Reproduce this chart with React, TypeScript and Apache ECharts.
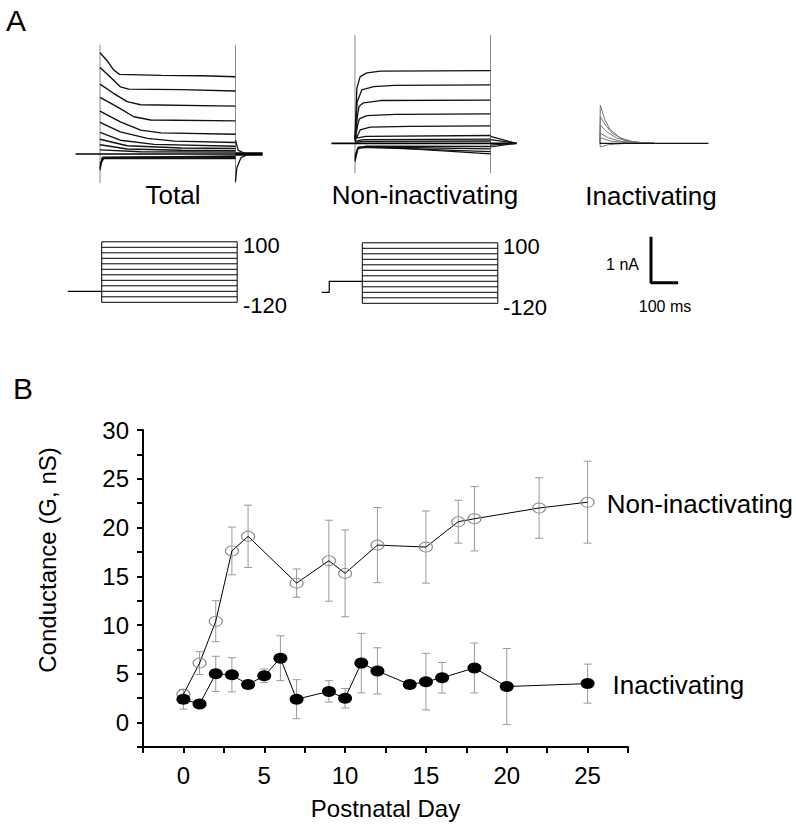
import React, { useEffect, useRef } from "react";
import * as echarts from "echarts";

const FONT = "'Liberation Sans', Arial, Helvetica, sans-serif";

// ---------------- Panel B data ----------------
const nonInactDays = [0, 1, 2, 3, 4, 7, 9, 10, 12, 15, 17, 18, 22, 25];
const nonInactMean = [2.9, 6.1, 10.4, 17.6, 19.1, 14.3, 16.6, 15.3, 18.2, 18.0, 20.6, 20.9, 22.0, 22.6];
const nonInactSem = [0.5, 1.17, 2.1, 2.45, 3.2, 1.45, 4.15, 4.45, 3.85, 3.7, 2.2, 3.3, 3.1, 4.2];

const inactDays = [0, 1, 2, 3, 4, 5, 6, 7, 9, 10, 11, 12, 14, 15, 16, 18, 20, 25];
const inactMean = [2.4, 1.9, 5.0, 4.9, 3.9, 4.8, 6.6, 2.4, 3.2, 2.5, 6.1, 5.3, 3.9, 4.2, 4.6, 5.6, 3.7, 4.0];
const inactSem = [1.0, 0.3, 1.8, 1.75, 0.3, 0.7, 2.3, 2.0, 1.1, 1.0, 3.05, 2.37, 0.3, 2.9, 1.57, 2.56, 3.9, 2.0];

// ---------------- Panel A data (time in ms, current in nA) ----------------
const totalTraces: number[][][] = [
  [[0, 2.2], [25, 2.04], [50, 1.83], [72, 1.73], [225, 1.71], [375, 1.7], [500, 1.68]],
  [[0, 1.88], [37, 1.68], [75, 1.46], [106, 1.41], [300, 1.4], [500, 1.37]],
  [[0, 1.52], [50, 1.32], [100, 1.14], [150, 1.07], [500, 1.04]],
  [[0, 1.23], [62, 1.03], [125, 0.81], [187, 0.74], [500, 0.72]],
  [[0, 0.93], [75, 0.7], [150, 0.52], [225, 0.46], [500, 0.43]],
  [[0, 0.69], [75, 0.48], [175, 0.34], [275, 0.28], [500, 0.25]],
  [[0, 0.47], [75, 0.3], [200, 0.21], [500, 0.17]],
  [[0, 0.32], [100, 0.18], [300, 0.13], [500, 0.12]],
  [[0, 0.2], [100, 0.11], [300, 0.08], [500, 0.07]],
  [[0, 0.09], [150, 0.05], [500, 0.04]],
  [[0, -0.35], [8, -0.08], [500, -0.04]],
  [[0, -0.3], [10, -0.07], [500, -0.06]],
  [[0, -0.25], [12, -0.09], [500, -0.08]],
  [[0, -0.2], [15, -0.1], [500, -0.1]],
];
const totalTails: number[][][] = [
  [[500, -0.6], [505, -0.3], [520, -0.08], [550, 0]],
  [[500, 0.3], [510, 0.08], [540, 0]],
];
const totalBaseline = [[-90, 0], [600, 0]];
const totalTailBaseline = [[500, 0], [600, 0]];
const totalCapOn = [[0, -0.63], [0, 2.37]];
const totalCapOff = [[500, -0.63], [500, 2.37]];

const nonInactTraces: number[][][] = [
  [[0, 0.1], [7, 1.2], [19, 1.45], [44, 1.53], [94, 1.57], [500, 1.58]],
  [[0, 0.1], [8, 0.9], [25, 1.16], [69, 1.23], [144, 1.26], [500, 1.27]],
  [[0, 0.08], [9, 0.6], [15, 0.8], [31, 0.88], [94, 0.93], [500, 0.94]],
  [[0, 0.06], [10, 0.4], [16, 0.53], [44, 0.6], [150, 0.63], [500, 0.64]],
  [[0, 0.05], [19, 0.29], [56, 0.35], [200, 0.37], [500, 0.38]],
  [[0, 0.2], [10, 0.12], [40, 0.15], [500, 0.17]],
  [[0, 0.04], [30, 0.08], [500, 0.09]],
  [[0, 0.02], [30, 0.04], [500, 0.05]],
  [[0, -0.4], [10, -0.12], [40, -0.06], [500, -0.07]],
  [[0, -0.35], [10, -0.1], [60, -0.08], [500, -0.12]],
  [[0, -0.3], [12, -0.09], [100, -0.1], [500, -0.18]],
  [[0, -0.25], [15, -0.08], [150, -0.1], [500, -0.23]],
];
const nonInactTails: number[][][] = [
  [[500, 0.15], [596, 0]],
  [[500, 0.08], [596, 0]],
  [[500, -0.08], [596, 0]],
  [[500, -0.04], [596, 0]],
];
const nonInactBaseline = [[-87, 0], [596, 0]];
const nonInactCapOn = [[0, -0.65], [0, 2.35]];
const nonInactCapOff = [[500, -0.65], [500, 2.35]];

const inactTraces: number[][][] = [
  [[0, 0], [1, 0.83], [18, 0.51], [37, 0.3], [74, 0.12], [123, 0.03], [200, 0]],
  [[0, 0], [1, 0.58], [20, 0.4], [45, 0.22], [90, 0.07], [150, 0.01], [200, 0]],
  [[0, 0], [1, 0.4], [25, 0.25], [60, 0.12], [110, 0.03], [200, 0]],
  [[0, 0], [1, 0.22], [30, 0.12], [80, 0.04], [200, 0]],
  [[0, 0], [1, 0.12], [40, 0.05], [100, 0.01], [200, 0]],
  [[0, 0], [1, -0.08], [30, -0.03], [100, 0], [200, 0]],
];
const inactBaseline = [[0, 0], [400, 0]];

// scale bar: 1 nA, 100 ms
const scaleBar = [[0, 1], [0, 0], [100, 0]];

// voltage protocols (mV), steps -120..100
const stepLevels = [100, 80, 60, 40, 20, 0, -20, -40, -60, -80, -100, -120];
const stepDuration = 500;
const totalHolding = [[-125, -80], [0, -80]];
const nonInactHolding = [[-150, -80], [-122, -80], [-122, -40], [0, -40]];

// ---------------- layout scales ----------------
const PX_MS = 0.271;
const PX_NA = 46;
const PX_MV = 0.275;

function gridAt(x0: number, y0: number, tMin: number, tMax: number, vMin: number, vMax: number, pxT: number, pxV: number) {
  return {
    grid: {
      left: x0 + tMin * pxT,
      top: y0 - vMax * pxV,
      width: (tMax - tMin) * pxT,
      height: (vMax - vMin) * pxV,
    },
    x: { min: tMin, max: tMax },
    y: { min: vMin, max: vMax },
  };
}

const layouts = [
  gridAt(100, 154, -90, 600, -0.7, 2.4, PX_MS, PX_NA), // 0 total currents
  gridAt(355, 143.3, -87, 596, -0.7, 2.4, PX_MS, PX_NA), // 1 non-inact currents
  gridAt(600, 143.3, 0, 400, -0.3, 1, PX_MS, PX_NA), // 2 inact currents
  gridAt(651, 282.7, 0, 100, 0, 1, PX_MS, PX_NA), // 3 scale bar
  gridAt(101.7, 269.3, -125, 500, -120, 100, PX_MS, PX_MV), // 4 total protocol
  gridAt(362.3, 270.3, -150, 500, -120, 100, PX_MS, PX_MV), // 5 non-inact protocol
];

function ln(data: any, gi: number, color = "#000", width = 1.2, z = 2) {
  return {
    type: "line",
    xAxisIndex: gi,
    yAxisIndex: gi,
    data,
    symbol: "none",
    showSymbol: false,
    silent: true,
    clip: false,
    z,
    lineStyle: { color, width },
  };
}

function errorBars(days: number[], mean: number[], sem: number[]) {
  return {
    type: "custom",
    xAxisIndex: 6,
    yAxisIndex: 6,
    z: 1,
    silent: true,
    data: days.map((d, i) => [d, mean[i], sem[i]]),
    renderItem: (_p: any, api: any) => {
      const x = api.value(0);
      const m = api.value(1);
      const e = api.value(2);
      const top = api.coord([x, m + e]);
      const bot = api.coord([x, m - e]);
      const w = 4;
      const st = { stroke: "#999", lineWidth: 1 };
      return {
        type: "group",
        children: [
          { type: "line", shape: { x1: top[0], y1: top[1], x2: bot[0], y2: bot[1] }, style: st },
          { type: "line", shape: { x1: top[0] - w, y1: top[1], x2: top[0] + w, y2: top[1] }, style: st },
          { type: "line", shape: { x1: bot[0] - w, y1: bot[1], x2: bot[0] + w, y2: bot[1] }, style: st },
        ],
      };
    },
  };
}

function text(t: string, x: number, y: number, size: number, align = "left", rotation = 0) {
  return {
    type: "text",
    x,
    y,
    rotation,
    silent: true,
    style: { text: t, fontSize: size, fontFamily: FONT, fill: "#000", align, verticalAlign: "middle" },
  };
}

export default function App() {
  const ref = useRef<HTMLDivElement>(null);

  useEffect(() => {
    if (!ref.current) return;
    const chart = echarts.init(ref.current, null, { renderer: "svg" });

    const grids: any[] = layouts.map((l) => l.grid);
    grids.push({ left: 143, top: 430, width: 485, height: 317 });

    const xAxes: any[] = layouts.map((l, i) => ({ type: "value", gridIndex: i, show: false, min: l.x.min, max: l.x.max }));
    const yAxes: any[] = layouts.map((l, i) => ({ type: "value", gridIndex: i, show: false, min: l.y.min, max: l.y.max }));

    const axisLine = { show: true, onZero: false, lineStyle: { color: "#000", width: 2 } };
    const axisTick = { show: true, inside: false, length: 6, lineStyle: { color: "#000", width: 2 } };
    const fmt = (v: number) => (Math.abs(v % 5) < 1e-9 ? String(v) : "");

    xAxes.push({
      type: "value",
      gridIndex: 6,
      min: -2.5,
      max: 27.5,
      interval: 2.5,
      axisLine,
      axisTick,
      splitLine: { show: false },
      axisLabel: { formatter: fmt, fontSize: 24, fontFamily: FONT, color: "#000", margin: 16, showMinLabel: true, showMaxLabel: true },
      name: "Postnatal Day",
      nameLocation: "middle",
      nameGap: 49,
      nameTextStyle: { fontSize: 24, fontFamily: FONT, color: "#000" },
    });
    yAxes.push({
      type: "value",
      gridIndex: 6,
      min: -2.5,
      max: 30,
      interval: 2.5,
      axisLine,
      axisTick,
      splitLine: { show: false },
      axisLabel: { formatter: fmt, fontSize: 24, fontFamily: FONT, color: "#000", margin: 14, showMinLabel: true, showMaxLabel: true },
    });

    const series: any[] = [];
    // Total
    series.push(ln(totalCapOn, 0, "#888", 1, 1));
    series.push(ln(totalCapOff, 0, "#888", 1, 1));
    series.push(ln(totalBaseline, 0, "#000", 1.6));
    series.push(ln(totalTailBaseline, 0, "#000", 3.5));
    totalTraces.forEach((t) => series.push(ln(t, 0, "#111", 1.4)));
    totalTails.forEach((t) => series.push(ln(t, 0, "#111", 1.3)));
    // Non-inactivating
    series.push(ln(nonInactCapOn, 1, "#888", 1, 1));
    series.push(ln(nonInactCapOff, 1, "#888", 1, 1));
    series.push(ln(nonInactBaseline, 1, "#000", 1.8));
    nonInactTraces.forEach((t) => series.push(ln(t, 1, "#111", 1.3)));
    nonInactTails.forEach((t) => series.push(ln(t, 1, "#111", 1.2)));
    // Inactivating
    inactTraces.forEach((t) => series.push(ln(t, 2, "#777", 1)));
    series.push(ln(inactBaseline, 2, "#111", 1.3));
    // scale bar
    series.push(ln(scaleBar, 3, "#000", 3));
    // protocols
    [4, 5].forEach((gi) => {
      stepLevels.forEach((v) => series.push(ln([[0, v], [stepDuration, v]], gi, "#000", 1)));
      series.push(ln([[0, stepLevels[stepLevels.length - 1]], [0, stepLevels[0]]], gi, "#000", 1));
      series.push(ln([[stepDuration, stepLevels[stepLevels.length - 1]], [stepDuration, stepLevels[0]]], gi, "#000", 1));
    });
    series.push(ln(totalHolding, 4, "#000", 1.2));
    series.push(ln(nonInactHolding, 5, "#000", 1.2));

    // Panel B
    series.push(errorBars(nonInactDays, nonInactMean, nonInactSem));
    series.push(errorBars(inactDays, inactMean, inactSem));
    const endLabel = (name: string, dist: number, dy: number) => ({
      show: true,
      position: "right",
      distance: dist,
      offset: [0, dy],
      formatter: name,
      fontSize: 26,
      fontFamily: FONT,
      color: "#000",
    });
    series.push({
      type: "line",
      name: "Non-inactivating",
      xAxisIndex: 6,
      yAxisIndex: 6,
      z: 3,
      symbol: "circle",
      symbolSize: [13, 10],
      itemStyle: { color: "rgba(255,255,255,0)", borderColor: "#888", borderWidth: 1 },
      lineStyle: { color: "#000", width: 1 },
      data: nonInactDays.map((d, i) =>
        i === nonInactDays.length - 1
          ? { value: [d, nonInactMean[i]], label: endLabel("Non-inactivating", 12, 2) }
          : [d, nonInactMean[i]]
      ),
    });
    series.push({
      type: "line",
      name: "Inactivating",
      xAxisIndex: 6,
      yAxisIndex: 6,
      z: 4,
      symbol: "circle",
      symbolSize: [14, 11],
      itemStyle: { color: "#000" },
      lineStyle: { color: "#000", width: 1 },
      data: inactDays.map((d, i) =>
        i === inactDays.length - 1
          ? { value: [d, inactMean[i]], label: endLabel("Inactivating", 18, 1) }
          : [d, inactMean[i]]
      ),
    });

    const graphic = [
      text("A", 6, 20, 30),
      text("B", 13, 388, 30),
      text("Total", 173, 195, 26, "center"),
      text("Non-inactivating", 425, 195, 26, "center"),
      text("Inactivating", 651, 196, 26, "center"),
      text("100", 243, 245, 22),
      text("-120", 243, 305, 22),
      text("100", 503, 246, 22),
      text("-120", 503, 307, 22),
      text("1 nA", 639, 264, 16, "right"),
      text("100 ms", 665, 306, 16, "center"),
      text("Conductance (G, nS)", 47, 560, 24, "center", Math.PI / 2),
    ];

    chart.setOption({
      animation: false,
      backgroundColor: "#fff",
      textStyle: { fontFamily: FONT },
      grid: grids,
      xAxis: xAxes,
      yAxis: yAxes,
      series,
      graphic,
    });
    return () => chart.dispose();
  }, []);

  return (
    <div
      ref={ref}
      style={{ position: "fixed", left: 0, top: 0, width: 796, height: 836, background: "#fff" }}
    />
  );
}
